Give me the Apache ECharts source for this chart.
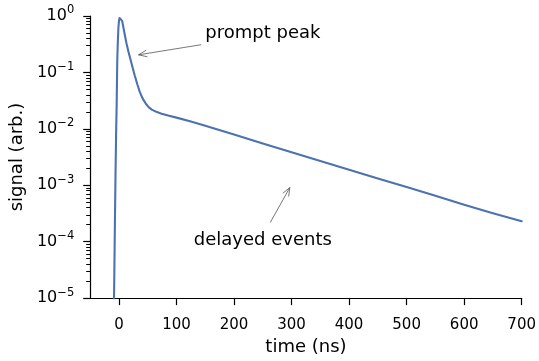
<!DOCTYPE html>
<html>
<head>
<meta charset="utf-8">
<script src="https://cdn.jsdelivr.net/npm/echarts@6/dist/echarts.min.js"></script>
<style>
  html, body { margin: 0; padding: 0; background: #fff; }
  #chart { width: 539px; height: 361px; }
</style>
</head>
<body>
<div id="chart"></div>
<script>
// Time axis samples (ns) and measured signal (arbitrary units)
const timeNs = [-9, -8, -7, -6, -5, -4, -3, -2, -1, 0, 1, 2, 3, 4, 5.5, 7.4, 10, 13, 16.5, 20.5,
  24, 27.4, 32, 36, 41, 47, 52, 57, 65, 74, 87, 100, 125, 150, 200, 250, 300, 350, 400, 450,
  500, 550, 600, 650, 700];
const signal = [4.5e-6, 3.2e-5, 2.5e-4, 1.6e-3, 7.9e-3, 0.028, 0.16, 0.35, 0.62, 0.82, 0.92, 0.965, 0.975, 0.94, 0.82, 0.65,
  0.47, 0.33, 0.232, 0.162, 0.119, 0.088, 0.061, 0.0457, 0.0347, 0.0275, 0.024, 0.0219, 0.020, 0.0186,
  0.017, 0.0158, 0.0135, 0.0113, 0.0079, 0.0055, 0.00386, 0.0027, 0.00189, 0.00132, 0.00093, 0.00065,
  0.00045, 0.00032, 0.00023];

// Tick positions
const xTicks = [0, 100, 200, 300, 400, 500, 600, 700];
const yTicks = [1e-5, 1e-4, 1e-3, 1e-2, 1e-1, 1];
const yMinorTicks = [];
for (let e = -5; e < 0; e++) {
  for (let m = 2; m <= 9; m++) yMinorTicks.push(m * Math.pow(10, e));
}

// Annotations: text anchor, arrow tail and arrow tip in data coordinates
const promptLabel = 'prompt peak';
const promptText = [150, 0.5];
const promptTail = [143, 0.31];
const promptTip = [34, 0.205];
const delayedLabel = 'delayed events';
const delayedText = [250, 1.05e-4];
const delayedTail = [263, 2.19e-4];
const delayedTip = [297, 9.1e-4];

const FONT = 'DejaVu Sans';
const INK = '#000';
const TICK_SIZE = 15;
const LABEL_SIZE = 18;

const chart = echarts.init(document.getElementById('chart'), null, { renderer: 'canvas' });

const supLabel = (v) => {
  const e = Math.round(Math.log10(v));
  return '{b|10}{s|' + (e < 0 ? '\u2212' + (-e) : String(e)) + '}';
};

chart.setOption({
  animation: false,
  backgroundColor: '#fff',
  grid: { left: 88, right: 14, top: 16, bottom: 62, containLabel: false },
  xAxis: {
    type: 'value',
    min: -50,
    max: 700,
    axisLine: { show: true, onZero: false, lineStyle: { color: INK, width: 1.2 } },
    axisTick: { show: true, customValues: xTicks, length: 7, lineStyle: { color: INK, width: 1.2 } },
    axisLabel: { customValues: xTicks, fontFamily: FONT, fontSize: TICK_SIZE, color: INK, margin: 20 },
    splitLine: { show: false },
    name: 'time (ns)',
    nameLocation: 'middle',
    nameGap: 38,
    nameTextStyle: { fontFamily: FONT, fontSize: LABEL_SIZE, color: INK }
  },
  yAxis: [{
    type: 'log',
    logBase: 10,
    min: 1e-5,
    max: 1,
    axisLine: { show: true, onZero: false, lineStyle: { color: INK, width: 1.2 } },
    axisTick: { show: true, customValues: yTicks, length: 7, lineStyle: { color: INK, width: 1.2 } },
    axisLabel: {
      customValues: yTicks,
      formatter: supLabel,
      margin: 16,
      rich: {
        b: { fontFamily: FONT, fontSize: 16, lineHeight: 16, color: INK },
        s: { fontFamily: FONT, fontSize: 11.5, lineHeight: 14, color: INK, padding: [0, 0, 11, 0] }
      }
    },
    splitLine: { show: false },
    name: 'signal (arb.)',
    nameLocation: 'middle',
    nameRotate: 90,
    nameGap: 60,
    nameTextStyle: { fontFamily: FONT, fontSize: LABEL_SIZE, color: INK }
  }, {
    // minor ticks of the log axis
    type: 'log',
    logBase: 10,
    min: 1e-5,
    max: 1,
    position: 'left',
    offset: 0,
    axisLine: { show: false, onZero: false },
    axisTick: { show: true, customValues: yMinorTicks, length: 4, lineStyle: { color: INK, width: 1 } },
    axisLabel: { show: false },
    splitLine: { show: false }
  }],
  series: [{
    type: 'line',
    data: timeNs.map((t, i) => [t, signal[i]]),
    yAxisIndex: 0,
    showSymbol: false,
    symbol: 'none',
    clip: true,
    lineStyle: { color: '#4c72b0', width: 2.1, join: 'round', cap: 'round' }
  }]
});

function arrow(tail, tip) {
  const a = chart.convertToPixel({ gridIndex: 0 }, tail);
  const b = chart.convertToPixel({ gridIndex: 0 }, tip);
  const ang = Math.atan2(b[1] - a[1], b[0] - a[0]);
  const len = 9, spread = 0.38;
  const w1 = [b[0] - len * Math.cos(ang - spread), b[1] - len * Math.sin(ang - spread)];
  const w2 = [b[0] - len * Math.cos(ang + spread), b[1] - len * Math.sin(ang + spread)];
  const style = { stroke: '#555', lineWidth: 0.8, fill: null };
  return [
    { type: 'polyline', shape: { points: [a, b] }, style: style, silent: true },
    { type: 'polyline', shape: { points: [w1, b, w2] }, style: style, silent: true }
  ];
}

function label(pos, text, align) {
  const p = chart.convertToPixel({ gridIndex: 0 }, pos);
  return {
    type: 'text', x: p[0], y: p[1], silent: true,
    style: { text: text, font: LABEL_SIZE + 'px "' + FONT + '"', fill: INK, align: align, verticalAlign: 'middle' }
  };
}

chart.setOption({
  graphic: [
    label(promptText, promptLabel, 'left'),
    ...arrow(promptTail, promptTip),
    label(delayedText, delayedLabel, 'center'),
    ...arrow(delayedTail, delayedTip)
  ]
});
</script>
</body>
</html>
